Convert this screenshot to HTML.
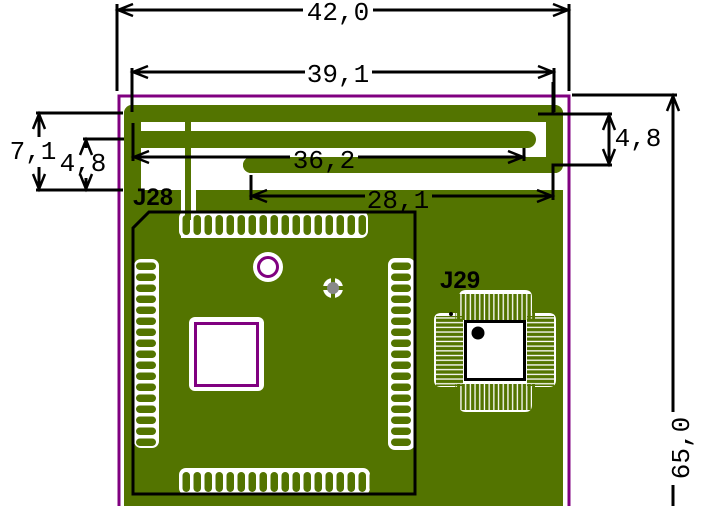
<!DOCTYPE html>
<html><head><meta charset="utf-8"><style>
html,body{margin:0;padding:0;background:#fff;}
svg{display:block;}
text{font-family:"Liberation Mono","DejaVu Sans Mono",monospace;fill:#000;}
</style></head><body>
<svg width="712" height="506" viewBox="0 0 712 506" xmlns="http://www.w3.org/2000/svg">
<defs>
<pattern id="pv" x="181" y="0" width="11" height="506" patternUnits="userSpaceOnUse">
<rect x="1.5" y="215" width="7.5" height="20" rx="3.7" fill="#537400"/>
<rect x="1.5" y="472" width="7.5" height="20" rx="3.7" fill="#537400"/>
</pattern>
<pattern id="ph" x="0" y="261" width="712" height="11" patternUnits="userSpaceOnUse">
<rect x="136" y="1.5" width="20" height="7.5" rx="3.7" fill="#537400"/>
<rect x="391" y="1.5" width="20" height="7.5" rx="3.7" fill="#537400"/>
</pattern>
<pattern id="qv" x="461" y="0" width="4.7" height="506" patternUnits="userSpaceOnUse">
<rect x="0.6" y="294" width="3.4" height="26" fill="#537400"/>
<rect x="0.6" y="384" width="3.4" height="26" fill="#537400"/>
</pattern>
<pattern id="qh" x="0" y="318" width="712" height="4.7" patternUnits="userSpaceOnUse">
<rect x="436" y="0.6" width="27" height="3.4" fill="#537400"/>
<rect x="527" y="0.6" width="27" height="3.4" fill="#537400"/>
</pattern>
</defs>

<path d="M119 508 V96 H569 V508" fill="none" stroke="#800080" stroke-width="3"/>

<g fill="#537400">
<rect x="124" y="105" width="439" height="17" rx="8"/>
<rect x="546" y="105" width="17" height="68" rx="8"/>
<rect x="546" y="115" width="17" height="40"/>
<rect x="243" y="157" width="320" height="16" rx="8"/>
<rect x="243" y="157" width="310" height="16" rx="8"/>
<rect x="124" y="105" width="17" height="401" rx="8"/>
<rect x="124" y="115" width="17" height="391"/>
<rect x="141" y="131" width="395" height="17" rx="8.5"/>
<rect x="141" y="131" width="380" height="17"/>
<rect x="185" y="118" width="6" height="100"/>
<rect x="124" y="190" width="57" height="316"/>
<rect x="196" y="190" width="367" height="316"/>
<rect x="181" y="238" width="20" height="268"/>
</g>

<rect x="179" y="211" width="189" height="27" rx="7" fill="#fff"/>
<rect x="179" y="468" width="191" height="27" rx="7" fill="#fff"/>
<rect x="134" y="259" width="25" height="189" rx="7" fill="#fff"/>
<rect x="388" y="258" width="27" height="192" rx="7" fill="#fff"/>
<rect x="179" y="211" width="191" height="290" fill="url(#pv)"/>
<rect x="130" y="259" width="290" height="190" fill="url(#ph)"/>
<rect x="185" y="190" width="6" height="30" fill="#537400"/>

<path d="M133 494 V228 L149 212 H415 V494 Z" fill="none" stroke="#000" stroke-width="3"/>

<circle cx="268" cy="267" r="15" fill="#fff"/>
<circle cx="268" cy="267" r="9.5" fill="#fff" stroke="#800080" stroke-width="3"/>
<circle cx="333" cy="288" r="10" fill="#fff"/>
<rect x="331" y="276" width="4" height="24" fill="#537400"/>
<rect x="321" y="286" width="24" height="4" fill="#537400"/>
<circle cx="333" cy="288" r="6" fill="#888"/>

<rect x="189" y="317" width="75" height="74" rx="6" fill="#fff"/>
<rect x="195.5" y="323.5" width="62" height="62" fill="#fff" stroke="#800080" stroke-width="3"/>

<path d="M466 290 H525 Q532 290 532 297 V313 H549 Q556 313 556 320 V380 Q556 387 549 387 H532 V405 Q532 412 525 412 H466 Q459 412 459 405 V387 H441 Q434 387 434 380 V320 Q434 313 441 313 H459 V297 Q459 290 466 290 Z" fill="#fff"/>
<rect x="455" y="290" width="80" height="124" fill="url(#qv)"/>
<rect x="430" y="316" width="130" height="70" fill="url(#qh)"/>
<rect x="465.5" y="321.5" width="59" height="58" fill="#fff" stroke="#000" stroke-width="3"/>
<circle cx="478" cy="333" r="6.5" fill="#000"/>
<circle cx="451" cy="314" r="2" fill="#000"/>

<text x="133" y="205" font-size="24" font-weight="bold" style="font-family:'Liberation Sans',sans-serif">J28</text>
<text x="440" y="288" font-size="24" font-weight="bold" style="font-family:'Liberation Sans',sans-serif">J29</text>

<g stroke="#000" stroke-width="3" fill="none">
<line x1="117" y1="4" x2="117" y2="91"/>
<line x1="569" y1="4" x2="569" y2="91"/>
<line x1="117" y1="10" x2="303" y2="10"/>
<line x1="373" y1="10" x2="569" y2="10"/>
<path d="M133 4 L118 10 L133 16 M553 4 L568 10 L553 16" stroke-width="2.5"/>
<line x1="132" y1="68" x2="132" y2="112"/>
<line x1="554" y1="68" x2="554" y2="112"/>
<line x1="132" y1="72" x2="305" y2="72"/>
<line x1="372" y1="72" x2="554" y2="72"/>
<path d="M148 66 L133 72 L148 78 M538 66 L553 72 L538 78" stroke-width="2.5"/>
<line x1="36" y1="113" x2="123" y2="113"/>
<line x1="36" y1="190" x2="123" y2="190"/>
<line x1="39" y1="113" x2="39" y2="137"/>
<line x1="39" y1="167" x2="39" y2="190"/>
<path d="M33 129 L39 114 L45 129 M33 174 L39 189 L45 174" stroke-width="2.5"/>
<line x1="83" y1="139" x2="124" y2="139"/>
<line x1="86" y1="139" x2="86" y2="148"/>
<line x1="86" y1="178" x2="86" y2="190"/>
<path d="M80 155 L86 140 L92 155 M80 174 L86 189 L92 174" stroke-width="2.5"/>
<line x1="133" y1="123" x2="133" y2="161"/>
<line x1="524" y1="148" x2="524" y2="161"/>
<line x1="133" y1="157" x2="290" y2="157"/>
<line x1="358" y1="157" x2="524" y2="157"/>
<path d="M149 151 L134 157 L149 163 M508 151 L523 157 L508 163" stroke-width="2.5"/>
<line x1="251" y1="175" x2="251" y2="200"/>
<line x1="251" y1="196" x2="365" y2="196"/>
<line x1="432" y1="196" x2="553" y2="196"/>
<path d="M267 190 L252 196 L267 202 M537 190 L552 196 L537 202" stroke-width="2.5"/>
<line x1="553" y1="82" x2="553" y2="114"/>
<line x1="538" y1="114" x2="612" y2="114"/>
<path d="M553 200 V165 H612"/>
<line x1="609" y1="114" x2="609" y2="165"/>
<path d="M603 130 L609 115 L615 130 M603 149 L609 164 L615 149" stroke-width="2.5"/>
<line x1="572" y1="95" x2="677" y2="95"/>
<line x1="673" y1="95" x2="673" y2="412"/>
<line x1="673" y1="485" x2="673" y2="506"/>
<path d="M667 111 L673 96 L679 111" stroke-width="2.5"/>
</g>
<g font-size="26">
<text x="338" y="20" text-anchor="middle">42,0</text>
<text x="338" y="82" text-anchor="middle">39,1</text>
<text x="33" y="159" text-anchor="middle">7,1</text>
<text x="83" y="171" text-anchor="middle">4,8</text>
<text x="324" y="168" text-anchor="middle">36,2</text>
<text x="398" y="208" text-anchor="middle">28,1</text>
<text x="638" y="146" text-anchor="middle">4,8</text>
<text transform="translate(689,448) rotate(-90)" text-anchor="middle">65,0</text>
</g>
</svg>
</body></html>
